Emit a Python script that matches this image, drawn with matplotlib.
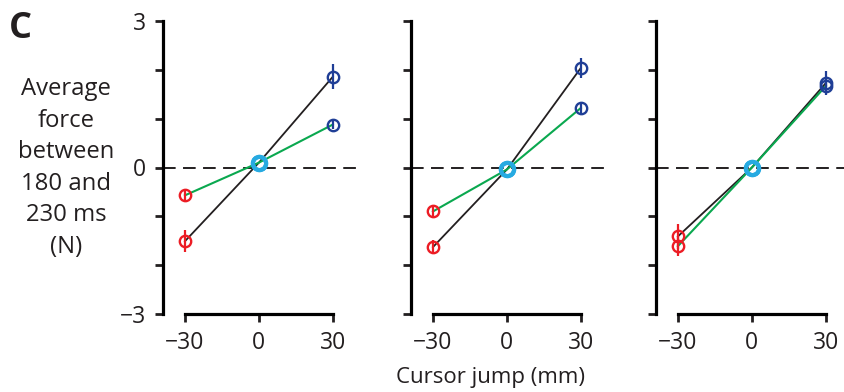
import matplotlib
matplotlib.use("Agg")
import matplotlib.pyplot as plt

plt.rcParams['font.family'] = ['Open Sans', 'DejaVu Sans']

jumps = [-30, 0, 30]
x_ticklabels = ['\u221230', '0', '30']
y_ticks = [-3, -2, -1, 0, 1, 2, 3]
y_ticklabels = ['\u22123', '', '', '0', '', '', '3']

black_means = [[-1.51, 0.10, 1.86], [-1.63, -0.04, 2.04], [-1.41, 0.00, 1.73]]
black_errs = [[0.22, 0.04, 0.25], [0.15, 0.04, 0.20], [0.25, 0.04, 0.25]]
green_means = [[-0.57, 0.10, 0.88], [-0.90, -0.04, 1.22], [-1.61, 0.00, 1.67]]
green_errs = [[0.10, 0.04, 0.10], [0.14, 0.04, 0.10], [0.20, 0.04, 0.12]]

RED = '#ec1c24'
CYAN = '#27aae1'
BLUE = '#1f3e96'
GREEN = '#0aa84f'
point_colors = [RED, CYAN, BLUE]

W, H = 845, 392
fig = plt.figure(figsize=(W / 100, H / 100), dpi=100)

lefts = [163, 411, 656]
ax_w = 197
bottom_px = 314
top_px = 21

axes = []
for i, lpx in enumerate(lefts):
    ax = fig.add_axes([lpx / W, (H - bottom_px) / H, ax_w / W, (bottom_px - top_px) / H])
    ax.set_xlim(-38.9, 41)
    ax.set_ylim(-3, 3)
    ax.patch.set_visible(False)
    for s in ['top', 'right']:
        ax.spines[s].set_visible(False)
    ax.spines['left'].set_linewidth(2.3)
    ax.spines['bottom'].set_linewidth(2.3)
    ax.spines['bottom'].set_bounds(-30, 30)
    ax.spines['left'].set_capstyle('projecting')
    ax.spines['bottom'].set_capstyle('projecting')
    ax.set_yticks(y_ticks)
    if i == 0:
        ax.set_yticklabels(y_ticklabels)
    else:
        ax.set_yticklabels([])
    ax.set_xticks(jumps)
    ax.set_xticklabels(x_ticklabels)
    ax.tick_params(axis='both', direction='out', length=6, width=2.0,
                   labelsize=16.5, color='#231f20', labelcolor='#231f20')
    ax.tick_params(axis='y', pad=6)
    ax.tick_params(axis='x', pad=6)

    ax.axhline(0, color='#231f20', lw=1.4, ls=(0, (6.5, 3.8)), zorder=1)

    for means, errs, lc, lw in [(black_means[i], black_errs[i], '#231f20', 1.3),
                                (green_means[i], green_errs[i], GREEN, 1.5)]:
        ax.plot(jumps, means, color=lc, lw=lw, zorder=2, clip_on=False)
        for xj, m, e, pc in zip(jumps, means, errs, point_colors):
            if xj == 0:
                continue
            ax.plot([xj, xj], [m - e, m + e], color=pc, lw=1.6, zorder=3,
                    solid_capstyle='butt', clip_on=False)
            ax.plot([xj], [m], marker='o', ms=8.2, mfc='none', mec=pc,
                    mew=1.7, zorder=4, clip_on=False)
    for means in (black_means[i], green_means[i]):
        ax.plot([0], [means[1]], marker='o', ms=9.5, mfc='none', mec=CYAN,
                mew=3.0, zorder=5, clip_on=False)
    axes.append(ax)

fig.text(9 / W, 1 - 29 / H, 'C', fontsize=26, fontweight='bold',
         color='#231f20', ha='left', va='center')

ylabel_lines = ['Average', 'force', 'between', '180 and', '230 ms', '(N)']
fig.text(66 / W, 1 - 168 / H, '\n'.join(ylabel_lines), fontsize=17.2,
         color='#231f20', ha='center', va='center', linespacing=1.42,
         multialignment='center')

fig.text(491 / W, 1 - 383 / H, 'Cursor jump (mm)', fontsize=16,
         color='#231f20', ha='center', va='baseline')

fig.savefig('out.png', dpi=100)
